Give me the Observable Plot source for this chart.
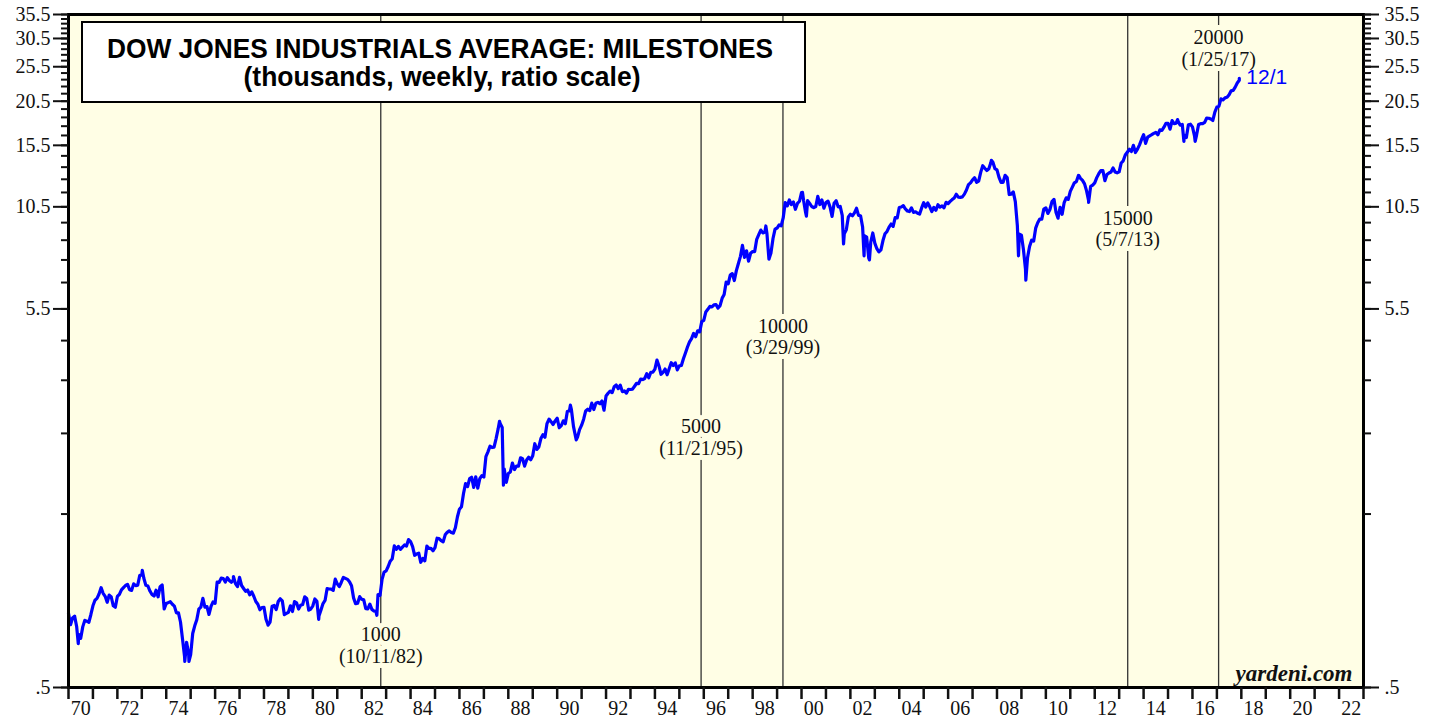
<!DOCTYPE html>
<html>
<head>
<meta charset="utf-8">
<script src="https://cdn.jsdelivr.net/npm/d3@7"></script>
<script src="https://cdn.jsdelivr.net/npm/@observablehq/plot@0.6"></script>
<style>
  html, body { margin: 0; padding: 0; background: #ffffff; }
  #chart svg { display: block; }
</style>
</head>
<body>
<div id="chart"></div>
<script>
// ---------------- DATA (thousands, month-end closes) ----------------
const firstDate = 1970.0;
const firstValue = 0.80;

const monthly1970s = [
  0.744,0.777,0.786,0.736,0.700,0.683,0.734,0.765,0.761,0.756,0.794,0.839,
  0.869,0.879,0.904,0.941,0.908,0.891,0.858,0.898,0.887,0.839,0.831,0.890,
  0.902,0.928,0.941,0.954,0.961,0.929,0.925,0.964,0.953,0.956,1.018,1.020,
  0.999,0.955,0.951,0.921,0.901,0.892,0.926,0.888,0.947,0.957,0.822,0.851,
  0.856,0.861,0.847,0.837,0.802,0.802,0.757,0.679,0.608,0.666,0.619,0.616,
  0.704,0.739,0.768,0.821,0.832,0.879,0.832,0.835,0.794,0.836,0.860,0.852,
  0.975,0.973,1.000,0.997,0.975,1.003,0.985,0.974,0.990,0.965,0.947,1.005,
  0.954,0.936,0.919,0.927,0.899,0.916,0.891,0.862,0.847,0.818,0.830,0.831,
  0.770,0.742,0.757,0.837,0.841,0.819,0.862,0.877,0.866,0.793,0.799,0.805,
  0.839,0.809,0.862,0.855,0.822,0.842,0.846,0.888,0.879,0.816,0.822,0.839
];
const monthly1980s = [
  0.876,0.863,0.786,0.817,0.851,0.868,0.935,0.933,0.932,0.925,0.993,0.964,
  0.947,0.974,1.004,0.998,0.992,0.977,0.952,0.882,0.850,0.853,0.889,0.875,
  0.871,0.824,0.823,0.848,0.820,0.812,0.809,0.901,0.896,0.992,1.039,1.047,
  1.076,1.113,1.130,1.226,1.200,1.222,1.199,1.216,1.233,1.225,1.276,1.259,
  1.221,1.155,1.165,1.171,1.105,1.132,1.115,1.224,1.207,1.207,1.189,1.212,
  1.287,1.284,1.267,1.258,1.315,1.336,1.348,1.334,1.329,1.375,1.472,1.547,
  1.571,1.709,1.819,1.784,1.877,1.893,1.775,1.898,1.768,1.878,1.914,1.896,
  2.158,2.224,2.305,2.286,2.292,2.419,2.572,2.663,2.596,1.994,1.834,1.939,
  1.958,2.072,1.988,2.032,2.031,2.142,2.129,2.032,2.113,2.149,2.115,2.169,
  2.342,2.258,2.294,2.419,2.480,2.440,2.661,2.737,2.693,2.645,2.706,2.753
];
const monthly1990s = [
  2.591,2.627,2.707,2.657,2.877,2.881,2.905,2.614,2.453,2.442,2.560,2.634,
  2.736,2.882,2.914,2.888,3.028,2.907,3.025,3.044,3.017,3.069,2.895,3.169,
  3.224,3.267,3.236,3.359,3.397,3.319,3.394,3.257,3.272,3.226,3.305,3.301,
  3.310,3.371,3.435,3.428,3.527,3.516,3.540,3.651,3.555,3.681,3.684,3.754,
  3.978,3.832,3.636,3.682,3.758,3.625,3.765,3.913,3.843,3.908,3.739,3.834,
  3.844,4.011,4.158,4.321,4.465,4.556,4.709,4.611,4.789,4.756,5.075,5.117,
  5.395,5.486,5.588,5.569,5.643,5.655,5.529,5.616,5.882,6.029,6.522,6.448,
  6.813,6.878,6.584,7.009,7.331,7.673,8.223,7.622,7.945,7.442,7.823,7.908,
  7.907,8.546,8.800,9.063,8.900,8.952,8.883,7.539,7.843,8.592,9.117,9.181,
  9.359,9.307,9.786,10.789,10.560,10.971,10.655,10.829,10.337,10.729,10.878,11.497
];
const monthly2000s = [
  10.941,10.128,10.922,10.734,10.522,10.448,10.522,11.215,10.651,10.971,10.415,10.788,
  10.887,10.495,9.879,10.735,10.912,10.502,10.523,9.950,8.848,9.075,9.852,10.022,
  9.920,10.106,10.404,9.946,9.925,9.243,8.737,8.664,7.592,8.397,8.896,8.342,
  8.054,7.891,7.992,8.480,8.850,8.985,9.234,9.416,9.275,9.801,9.782,10.454,
  10.488,10.584,10.358,10.226,10.188,10.435,10.140,10.174,10.080,10.027,10.428,10.783,
  10.490,10.766,10.504,10.193,10.467,10.275,10.641,10.482,10.569,10.440,10.806,10.718,
  10.865,10.993,11.109,11.367,11.168,11.150,11.186,11.381,11.679,12.081,12.222,12.463,
  12.622,12.269,12.354,13.063,13.628,13.409,13.212,13.358,13.896,13.930,13.372,13.265,
  12.650,12.266,12.263,12.820,12.638,11.350,11.378,11.544,10.851,9.325,8.829,8.776,
  8.001,7.063,7.609,8.168,8.500,8.447,9.172,9.496,9.712,9.713,10.345,10.428
];
const monthly2010s = [
  10.067,10.325,10.857,11.009,10.137,9.774,10.466,10.015,10.788,11.118,11.006,11.578,
  11.892,12.226,12.320,12.811,12.570,12.414,12.143,11.614,10.913,11.955,12.046,12.218,
  12.633,12.952,13.212,13.214,12.393,12.880,13.009,13.091,13.437,13.096,13.026,13.104,
  13.861,14.054,14.579,14.840,15.116,14.910,15.500,14.810,15.130,15.546,16.086,16.577,
  15.699,16.322,16.458,16.581,16.717,16.827,16.563,17.098,17.043,17.391,17.828,17.823,
  17.165,18.133,17.776,17.841,18.011,17.620,17.690,16.528,16.285,17.664,17.720,17.425,
  16.466,16.517,17.685,17.774,17.787,17.930,18.432,18.401,18.308,18.142,19.124,19.763,
  19.864,20.812,20.663,20.941,21.009,21.350,21.891,21.948,22.405,23.000,23.400
];
// weekly highs and lows between month ends
const turnDates  = [1970.40, 1973.02, 1974.76, 1974.93, 1976.75, 1978.16, 1980.24, 1982.62,
                    1987.64, 1987.80, 1990.54, 1990.78, 1998.54, 2000.04, 2000.20, 2001.72,
                    2002.56, 2002.78, 2007.77, 2008.88, 2009.18, 2010.50, 2011.35, 2011.75,
                    2015.39, 2015.65, 2016.11];
const turnValues = [0.66, 1.05, 0.59, 0.59, 1.01, 0.745, 0.77, 0.79,
                    2.70, 1.80, 2.99, 2.40, 9.30, 11.50, 9.90, 8.30,
                    7.70, 7.50, 14.10, 7.70, 6.60, 9.80, 12.80, 10.80,
                    18.25, 15.90, 15.90];
const lastDate = 2017.917;
const lastValue = 23.7;
const lastLabel = "12/1";

const milestoneDates  = [1982.78, 1995.89, 1999.24, 2013.35, 2017.07];
const milestoneLevels = ["1000", "5000", "10000", "15000", "20000"];
const milestoneDays   = ["(10/11/82)", "(11/21/95)", "(3/29/99)", "(5/7/13)", "(1/25/17)"];

const yTickValues  = d3.range(0.5, 36, 1);
const yLabelValues = [0.5, 5.5, 10.5, 15.5, 20.5, 25.5, 30.5, 35.5];
const xTickYears   = d3.range(1970, 2024, 1);
const xLabelYears  = d3.range(1970, 2023, 2);

const titleText    = "DOW JONES INDUSTRIALS AVERAGE: MILESTONES";
const subtitleText = "(thousands, weekly, ratio scale)";
const creditText   = "yardeni.com";

// ---------------- BUILD ----------------
const series = [{date: firstDate, value: firstValue}];
[monthly1970s, monthly1980s, monthly1990s, monthly2000s, monthly2010s].forEach((arr, k) => {
  arr.forEach((v, i) => series.push({date: 1970 + 10 * k + (i + 1) / 12, value: v}));
});
turnDates.forEach((d, i) => series.push({date: d, value: turnValues[i]}));
series.push({date: lastDate, value: lastValue});
series.sort((a, b) => a.date - b.date);

const milestones = milestoneDates.map((d, i) => ({date: d, text: milestoneLevels[i] + "\n" + milestoneDays[i]}));
// vertical placement of each milestone caption (in data units of the ratio scale)
const captionY = [0.654, 2.44, 4.62, 9.15, 28.7];

const BG = "#FFFEE5";
const serif = "'Liberation Serif', 'Times New Roman', serif";
const sans = "'Liberation Sans', Arial, Helvetica, sans-serif";
const fmtY = d => d === 0.5 ? ".5" : d.toFixed(1);

const chart = Plot.plot({
  width: 1439,
  height: 721,
  marginLeft: 68,
  marginRight: 76,
  marginTop: 14,
  marginBottom: 34,
  style: {fontFamily: serif, fontSize: "20px", color: "#111", background: "#ffffff"},
  x: {type: "linear", domain: [1970, 2023], label: null},
  y: {type: "log", domain: [0.5, 35.5], label: null},
  marks: [
    Plot.frame({fill: BG}),
    Plot.ruleX(milestoneDates, {stroke: "#333", strokeWidth: 1.3}),
    Plot.text(milestones, {
      x: "date", y: (d, i) => captionY[i], text: "text",
      fontFamily: serif, fontSize: 20, lineHeight: 1.08,
      fill: "#111", stroke: BG, strokeWidth: 10, paintOrder: "stroke"
    }),
    Plot.line(series, {x: "date", y: "value", stroke: "#0000FF", strokeWidth: 3.2, strokeLinejoin: "round"}),
    Plot.text([{date: lastDate, value: lastValue}], {
      x: "date", y: "value", text: () => lastLabel, dx: 7, dy: -1, textAnchor: "start",
      fill: "#0000FF", fontFamily: sans, fontSize: 21
    }),
    Plot.text([creditText], {
      frameAnchor: "bottom-right", text: d => d, dx: -11, dy: -7,
      fontFamily: serif, fontSize: 23, fontWeight: "bold", fontStyle: "italic", fill: "#111"
    }),
    Plot.frame({stroke: "#000", strokeWidth: 3}),
    Plot.axisY(yTickValues, {anchor: "left", tickSize: 7, tickFormat: () => "", strokeWidth: 2}),
    Plot.axisY(yLabelValues, {anchor: "left", tickSize: 15, tickPadding: 3, tickFormat: fmtY, strokeWidth: 2}),
    Plot.axisY(yTickValues, {anchor: "right", tickSize: 7, tickFormat: () => "", strokeWidth: 2}),
    Plot.axisY(yLabelValues, {anchor: "right", tickSize: 15, tickPadding: 6, tickFormat: fmtY, strokeWidth: 2}),
    Plot.axisX(xTickYears, {anchor: "bottom", tickSize: 12, tickFormat: () => "", strokeWidth: 2.5}),
    Plot.axisX(xLabelYears.map(y => y + 0.5), {anchor: "bottom", tickSize: 0, tickPadding: 13,
      tickFormat: d => String(Math.floor(d)).slice(2)})
  ]
});

// Title box drawn on top of the plot
const svg = d3.select(chart);
const box = svg.append("g");
box.append("rect")
  .attr("x", 82).attr("y", 22).attr("width", 723).attr("height", 80)
  .attr("fill", "#ffffff").attr("stroke", "#000").attr("stroke-width", 2);
box.append("text")
  .attr("x", 440).attr("y", 58).attr("text-anchor", "middle")
  .attr("font-family", sans).attr("font-weight", "bold").attr("font-size", 28).attr("fill", "#000")
  .attr("textLength", 666).attr("lengthAdjust", "spacingAndGlyphs")
  .text(titleText);
box.append("text")
  .attr("x", 442).attr("y", 86).attr("text-anchor", "middle")
  .attr("font-family", sans).attr("font-weight", "bold").attr("font-size", 27).attr("fill", "#000")
  .attr("textLength", 397).attr("lengthAdjust", "spacingAndGlyphs")
  .text(subtitleText);

document.getElementById("chart").appendChild(chart);
</script>
</body>
</html>
